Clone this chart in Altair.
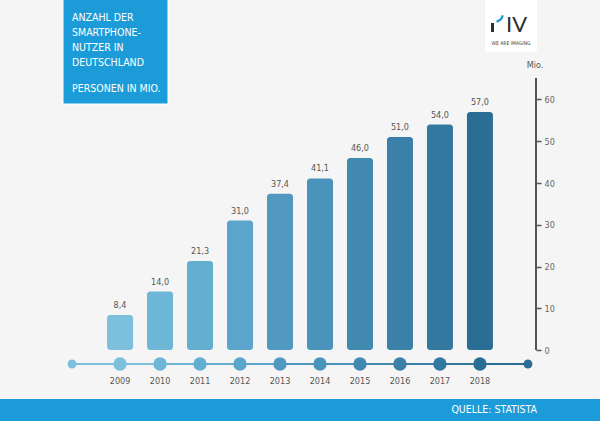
import altair as alt
import pandas as pd

years = [2009, 2010, 2011, 2012, 2013, 2014, 2015, 2016, 2017, 2018]
values = [8.4, 14.0, 21.3, 31.0, 37.4, 41.1, 46.0, 51.0, 54.0, 57.0]
bar_colors = ["#7cc0de", "#6db6d6", "#64afd0", "#5ba4cb", "#5199c0",
              "#4a93ba", "#4289b0", "#3a80a8", "#33789f", "#2a6e95"]
axis_ticks = list(range(0, 70, 5))
timeline_start = 2007.8
timeline_end = 2019.2
title_lines = ["ANZAHL DER", "SMARTPHONE-", "NUTZER IN", "DEUTSCHLAND"]
subtitle_text = "PERSONEN IN MIO."
source_text = "QUELLE: STATISTA"
unit_text = "Mio."

FONT = "Liberation Sans Narrow, DejaVu Sans Condensed, Roboto, sans-serif"
BLUE = "#1b9bd7"

df = pd.DataFrame({"year": years, "value": values})

# timeline segments between consecutive dots
pts = [timeline_start] + years + [timeline_end]
seg = pd.DataFrame({"x": pts[:-1], "x2": pts[1:],
                    "c": [years[0]] + years})
ends = pd.DataFrame({"x": [timeline_start, timeline_end], "c": [years[0], years[-1]]})

xs = alt.Scale(domain=[2006.123, 2020.877], nice=False, zero=False)
ys = alt.Scale(domain=[-17.0, 83.83], nice=False, zero=False)
cs = alt.Scale(domain=years, range=bar_colors)

base = alt.Chart(df)

bars = base.mark_bar(width=26, cornerRadius=3).encode(
    x=alt.X("year:Q", scale=xs, axis=None),
    y=alt.Y("value:Q", scale=ys, axis=alt.Axis(
        orient="right", offset=-64, values=axis_ticks, domain=False, grid=False,
        labelExpr="datum.value % 10 == 0 ? datum.label : ''",
        tickSize=5, tickWidth=1.5, tickColor="#555555",
        labelColor="#666666", labelFontSize=9, labelFont=FONT, labelPadding=3,
        title=None)),
    y2=alt.datum(0),
    color=alt.Color("year:O", scale=cs, legend=None),
)

labels = base.transform_calculate(
    label="replace(format(datum.value, '.1f'), '.', ',')"
).mark_text(dy=-10, fontSize=9, font=FONT, color="#555555").encode(
    x=alt.X("year:Q", scale=xs), y=alt.Y("value:Q", scale=ys), text="label:N")

axis_line = alt.Chart(df).mark_rule(color="#555555", strokeWidth=1.5).encode(
    x=alt.value(536), y=alt.datum(0, scale=ys), y2=alt.datum(65))

segs = alt.Chart(seg).mark_rule(strokeWidth=2).encode(
    x=alt.X("x:Q", scale=xs), x2="x2:Q", y=alt.value(364),
    color=alt.Color("c:O", scale=cs, legend=None))

end_dots = alt.Chart(ends).mark_circle(size=80, opacity=1).encode(
    x=alt.X("x:Q", scale=xs), y=alt.value(364),
    color=alt.Color("c:O", scale=cs, legend=None))

dots = base.mark_circle(size=180, opacity=1).encode(
    x=alt.X("year:Q", scale=xs), y=alt.value(364),
    color=alt.Color("year:O", scale=cs, legend=None))

year_labels = base.mark_text(fontSize=9, font=FONT, color="#555555").encode(
    x=alt.X("year:Q", scale=xs), y=alt.value(381), text="year:N")

deco = alt.Chart(pd.DataFrame({"a": [0]}))

title_box = deco.mark_rect(color=BLUE, stroke="#ffffff", strokeWidth=1).encode(
    x=alt.value(63), x2=alt.value(168), y=alt.value(-2), y2=alt.value(104))
title = deco.mark_text(text=title_lines, lineHeight=15,
                       align="left", baseline="top", fontSize=10.5, font=FONT,
                       color="#ffffff").encode(x=alt.value(72), y=alt.value(13))
subtitle = deco.mark_text(text=subtitle_text, align="left", baseline="top",
                          fontSize=10.5, font=FONT, color="#ffffff").encode(
    x=alt.value(72), y=alt.value(84))

band = deco.mark_rect(color=BLUE).encode(
    x=alt.value(0), x2=alt.value(600), y=alt.value(399), y2=alt.value(421))
source = deco.mark_text(text=source_text, align="right", baseline="middle",
                        fontSize=10.5, font=FONT, color="#ffffff").encode(
    x=alt.value(537), y=alt.value(410))

unit = deco.mark_text(text=unit_text, align="center", baseline="middle",
                      fontSize=9, font=FONT, color="#555555").encode(
    x=alt.value(535), y=alt.value(65))

logo_box = deco.mark_rect(color="#ffffff").encode(
    x=alt.value(485), x2=alt.value(537), y=alt.value(0), y2=alt.value(52))
logo_bar = deco.mark_rect(color="#2b2f33").encode(
    x=alt.value(491), x2=alt.value(494), y=alt.value(23), y2=alt.value(32))
logo_arc = deco.mark_arc(color="#1b9bd7", radius=9, radius2=6.5, theta=1.75,
                         theta2=2.95).encode(x=alt.value(495), y=alt.value(14))
logo_iv = deco.mark_text(text="IV", align="left", baseline="alphabetic",
                         fontSize=22, font="Lato, Roboto, sans-serif",
                         color="#2b2f33").encode(x=alt.value(506), y=alt.value(32))
logo_sub = deco.mark_text(text="WE ARE IMAGING", align="center", baseline="middle",
                          fontSize=5, font=FONT, color="#444444").encode(
    x=alt.value(511), y=alt.value(43))

chart = alt.layer(
    band, title_box, title, subtitle, source, unit, logo_box, logo_bar, logo_arc,
    logo_iv, logo_sub, axis_line, bars, labels, segs, end_dots, dots, year_labels
).resolve_scale(color="shared").properties(
    width=600, height=421, autosize=alt.AutoSizeParams(type="none"),
    padding=0, background="#f5f5f5"
).configure_view(stroke=None)

chart.save("out.html", embed_options={"renderer": "svg", "actions": False})
